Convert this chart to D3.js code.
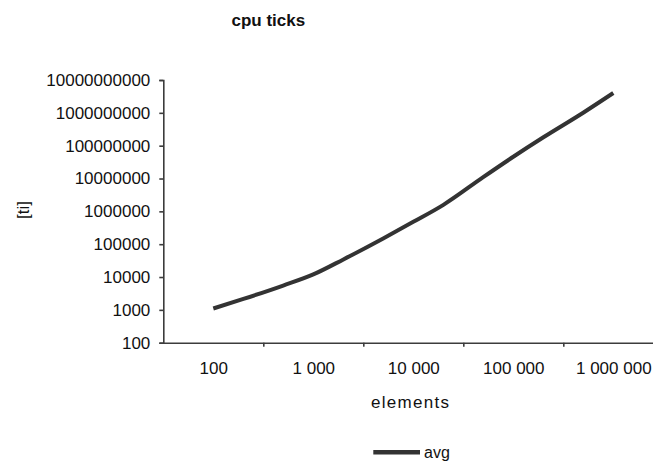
<!DOCTYPE html>
<html>
<head>
<meta charset="utf-8">
<script src="https://cdn.jsdelivr.net/npm/d3@7"></script>
<style>
  html, body { margin: 0; padding: 0; background: #fff; }
  svg { display: block; font-family: "Liberation Sans", Arial, sans-serif; }
</style>
</head>
<body>
<svg id="chart" width="653" height="468"></svg>
<script>
// ---- data ----
const elements = [100, 200, 500, 1000, 2000, 5000, 10000, 20000, 50000, 100000, 200000, 500000, 1000000];
const avgTicks = [1100, 2150, 5510, 12000, 34400, 150000, 479000, 1580000, 11000000, 45900000, 180000000, 1010000000, 4020000000];
const xLabelValues = [100, 1000, 10000, 100000, 1000000];
const xTickMarks = [316.2, 3162, 31623, 316228, 3162278];
const yTickValues = [100, 1000, 10000, 100000, 1000000, 10000000, 100000000, 1000000000, 10000000000];
const seriesName = "avg";
const titleText = "cpu ticks";
const xTitle = "elements";
const yTitle = "[ti]";

const svg = d3.select("#chart");
const axisColor = "#3c3c3c";
const lineColor = "#333333";
const fontFam = "'Liberation Sans', Arial, sans-serif";

const x = d3.scaleLog().domain([Math.pow(10, 1.5), Math.pow(10, 6.5)]).range([163.3, 663.3]);
const y = d3.scaleLog().domain([100, 1e10]).range([342.7, 80]);

// title
svg.append("text").attr("x", 268.3).attr("y", 25.5)
  .attr("text-anchor", "middle").attr("font-size", 17).attr("font-weight", "bold")
  .attr("fill", "#111").text(titleText);

// y axis
const gy = svg.append("g").attr("transform", "translate(163.3,0)")
  .call(d3.axisLeft(y).tickValues(yTickValues).tickFormat(d3.format("d")).tickSize(4).tickPadding(9));
gy.select(".domain").attr("stroke", axisColor).attr("stroke-width", 1.6);
gy.selectAll(".tick line").attr("stroke", axisColor).attr("stroke-width", 1.6);
gy.selectAll(".tick text").attr("font-size", 17).attr("fill", "#111").attr("font-family", fontFam);

// x axis line + tick marks
const gx = svg.append("g").attr("transform", "translate(0,342.7)")
  .call(d3.axisBottom(x).tickValues(xTickMarks).tickFormat("").tickSize(4).tickSizeOuter(0));
gx.select(".domain").attr("stroke", axisColor).attr("stroke-width", 1.6);
gx.selectAll(".tick line").attr("stroke", axisColor).attr("stroke-width", 1.6);

// x labels
const loc = d3.formatLocale({decimal: ".", thousands: " ", grouping: [3], currency: ["", ""]});
const fmt = loc.format(",d");
const gxl = svg.append("g").attr("transform", "translate(0,342.7)")
  .call(d3.axisBottom(x).tickValues(xLabelValues).tickFormat(fmt).tickSize(0).tickPadding(19));
gxl.select(".domain").remove();
gxl.selectAll(".tick text").attr("font-size", 17).attr("fill", "#111").attr("font-family", fontFam);

// axis titles
svg.append("text").attr("x", 410.7).attr("y", 408).attr("text-anchor", "middle")
  .attr("font-size", 17).attr("letter-spacing", 1.3).attr("fill", "#111").text(xTitle);
svg.append("text").attr("transform", "translate(29,210) rotate(-90)").attr("text-anchor", "middle")
  .attr("font-size", 17).attr("fill", "#111").text(yTitle);

// line
const line = d3.line().x((d, i) => x(elements[i])).y(d => y(d)).curve(d3.curveMonotoneX);
svg.append("path").datum(avgTicks).attr("d", line)
  .attr("fill", "none").attr("stroke", lineColor).attr("stroke-width", 4)
  .attr("stroke-linejoin", "round");

// legend
svg.append("line").attr("x1", 373.3).attr("x2", 420).attr("y1", 452.3).attr("y2", 452.3)
  .attr("stroke", lineColor).attr("stroke-width", 4.5);
svg.append("text").attr("x", 424).attr("y", 458).attr("font-size", 16).attr("fill", "#111").text(seriesName);
</script>
</body>
</html>
